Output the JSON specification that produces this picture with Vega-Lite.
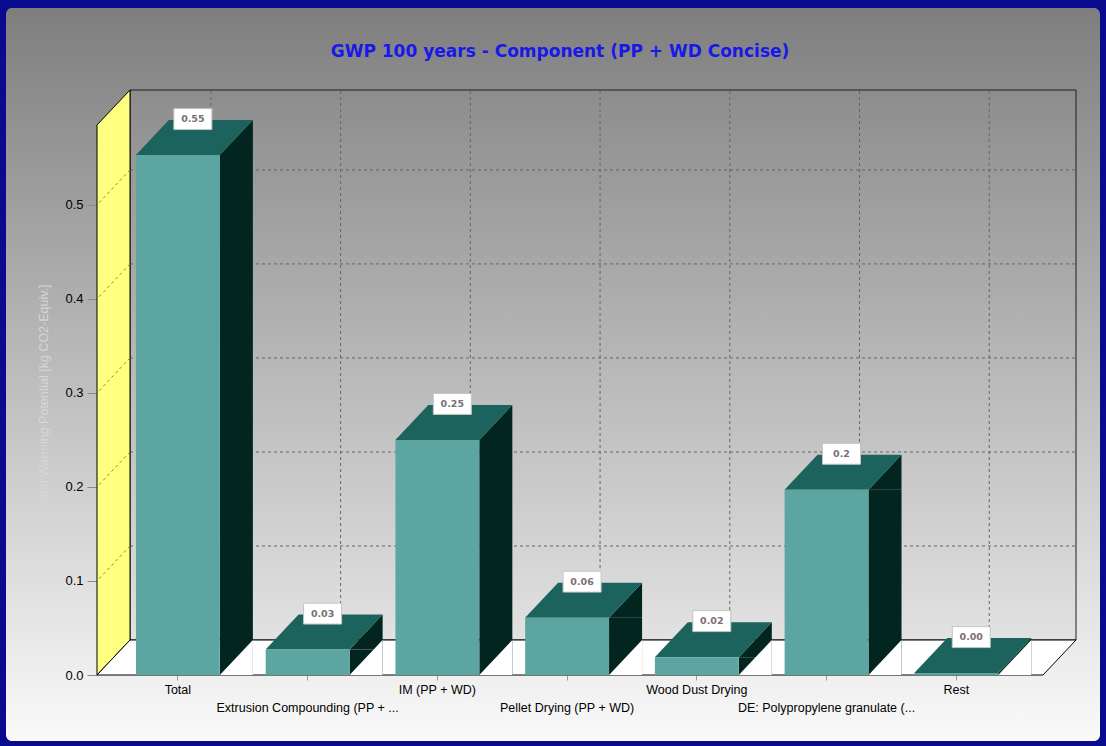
{
  "$schema": "https://vega.github.io/schema/vega-lite/v6.json",
  "width": 1094,
  "height": 733,
  "autosize": "none",
  "padding": {"left": 6, "top": 8, "right": 6, "bottom": 5},
  "background": "#0a0a8f",
  "config": {
    "view": {
      "stroke": null,
      "cornerRadius": 6,
      "fill": {"gradient": "linear", "x1": 0, "y1": 0, "x2": 0, "y2": 1,
        "stops": [{"offset": 0, "color": "#7e7e7e"}, {"offset": 1, "color": "#fafafa"}]}
    }
  },
  "title": {
    "text": "GWP 100 years - Component (PP + WD Concise)",
    "color": "#1818e8",
    "font": "DejaVu Sans",
    "fontSize": 17,
    "fontWeight": "bold",
    "anchor": "middle",
    "frame": "group",
    "baseline": "middle",
    "offset": -61,
    "dx": 7
  },
  "datasets": {
    "bars": [
      {"name": "Total", "value": 0.553, "label": "0.55"},
      {"name": "Extrusion Compounding (PP + ...", "value": 0.027, "label": "0.03"},
      {"name": "IM (PP + WD)", "value": 0.25, "label": "0.25"},
      {"name": "Pellet Drying (PP + WD)", "value": 0.061, "label": "0.06"},
      {"name": "Wood Dust Drying", "value": 0.019, "label": "0.02"},
      {"name": "DE: Polypropylene granulate (...", "value": 0.197, "label": "0.2"},
      {"name": "Rest", "value": 0.002, "label": "0.00"}
    ],
    "ticks": [{"v": 0.1}, {"v": 0.2}, {"v": 0.3}, {"v": 0.4}, {"v": 0.5}]
  },
  "layer": [
    {
      "layer": [
        {
          "data": {"values": [{}]},
          "mark": {"type": "rect", "stroke": "#1e1e1e", "strokeWidth": 1,
            "fill": {"gradient": "linear", "x1": 0, "y1": 0, "x2": 0, "y2": 1,
              "stops": [{"offset": 0, "color": "#8d8d8d"}, {"offset": 1, "color": "#e2e2e2"}]}},
          "encoding": {
            "x": {"datum": 0, "type": "quantitative", "scale": {"domain": [0, 1], "range": [124, 1070]}, "axis": null},
            "x2": {"datum": 1},
            "y": {"datum": 0, "type": "quantitative", "scale": {"domain": [0, 0.585], "range": [632, 82], "nice": false, "zero": true}, "axis": null},
            "y2": {"datum": 0.585}
          }
        },
        {
          "data": {"name": "ticks"},
          "mark": {"type": "rule", "stroke": "#666666", "strokeDash": [3, 3], "strokeWidth": 1},
          "encoding": {
            "x": {"datum": 0, "type": "quantitative", "scale": {"domain": [0, 1], "range": [124, 1070]}, "axis": null},
            "x2": {"datum": 1},
            "y": {"field": "v", "type": "quantitative", "scale": {"domain": [0, 0.585], "range": [632, 82], "nice": false, "zero": true}, "axis": null}
          }
        },
        {
          "data": {"values": [{}]},
          "mark": {"type": "point", "shape": "M0 0 L0 -1.8333 L-0.11 -1.7167 L-0.11 0.11667 Z", "size": 360000,
            "filled": true, "fill": "#ffff80", "stroke": "#000000", "strokeWidth": 1, "opacity": 1},
          "encoding": {
            "x": {"datum": 0, "type": "quantitative", "scale": {"domain": [0, 1], "range": [124, 1070]}, "axis": null},
            "y": {"datum": 0, "type": "quantitative", "scale": {"domain": [0, 0.585], "range": [632, 82], "nice": false, "zero": true}, "axis": null}
          }
        },
        {
          "data": {"name": "ticks"},
          "mark": {"type": "point", "shape": "M0 0 L-0.66 0.7", "size": 10000,
            "filled": false, "stroke": "#9a8a20", "strokeDash": [3, 3], "strokeWidth": 1, "opacity": 1},
          "encoding": {
            "x": {"datum": 0, "type": "quantitative", "scale": {"domain": [0, 1], "range": [124, 1070]}, "axis": null},
            "y": {"field": "v", "type": "quantitative", "scale": {"domain": [0, 0.585], "range": [632, 82], "nice": false, "zero": true}, "axis": null}
          }
        },
        {
          "data": {"values": [{}]},
          "mark": {"type": "point", "shape": "M0 0 L1.892 0 L1.826 0.07 L-0.066 0.07 Z", "size": 1000000,
            "filled": true, "fill": "#ffffff", "stroke": "#000000", "strokeWidth": 1, "opacity": 1},
          "encoding": {
            "x": {"datum": 0, "type": "quantitative", "scale": {"domain": [0, 1], "range": [124, 1070]}, "axis": null},
            "y": {"datum": 0, "type": "quantitative", "scale": {"domain": [0, 0.585], "range": [632, 82], "nice": false, "zero": true}, "axis": null}
          }
        }
      ]
    },
    {
      "data": {"name": "bars"},
      "encoding": {
        "x": {
          "field": "name", "type": "nominal", "sort": null,
          "scale": {"type": "band", "range": [124, 1070], "paddingInner": 0.354, "paddingOuter": 0.323, "align": 0.465},
          "axis": {
            "orient": "bottom", "offset": -66, "position": -33, "title": null,
            "domain": false, "grid": false, "labelAngle": 0,
            "labelFont": "Liberation Sans", "labelFontSize": 12.5, "labelColor": "#000000",
            "labelPadding": 3, "tickSize": 5, "tickColor": "#9a9a9a",
            "labelLimit": 0, "labelOverlap": false, "labelBound": false, "labelLineHeight": 18,
            "labelExpr": "round(datum.index * 6) % 2 === 1 ? ['', datum.label] : datum.label"
          }
        }
      },
      "layer": [
        {
          "mark": {"type": "rule", "stroke": "#666666", "strokeDash": [3, 3], "strokeWidth": 1},
          "encoding": {
            "y": {"datum": 0, "type": "quantitative", "scale": {"domain": [0, 0.585], "range": [632, 82], "nice": false, "zero": true}},
            "y2": {"datum": 0.585}
          }
        },
        {
          "mark": {"type": "bar", "width": 33, "xOffset": 25.5, "yOffset": 35, "y2Offset": 35, "color": "#02251f"},
          "encoding": {
            "y": {"field": "value", "type": "quantitative", "scale": {"domain": [0, 0.585], "range": [632, 82], "nice": false, "zero": true},
              "axis": {
                "orient": "left", "offset": -91, "position": 35,
                "title": "Global Warming Potential [kg CO2-Equiv.]",
                "domain": false, "grid": false, "values": [0, 0.1, 0.2, 0.3, 0.4, 0.5], "format": ".1f",
                "tickColor": "#8a8a8a", "tickSize": 10, "labelPadding": 4,
                "labelFont": "Liberation Sans", "labelFontSize": 13, "labelColor": "#000000",
                "titleFont": "Liberation Sans", "titleFontSize": 12.5, "titleFontWeight": "normal",
                "titleColor": "#d6d6d6", "titlePadding": 14
              }}
          }
        },
        {
          "mark": {"type": "point", "shape": "M0.84 0 L1.5 -0.7 L1.5 0 Z", "size": 10000, "filled": true,
            "fill": "#02251f", "strokeWidth": 0, "opacity": 1, "xOffset": -33, "yOffset": 35},
          "encoding": {"y": {"field": "value", "type": "quantitative"}}
        },
        {
          "mark": {"type": "point", "shape": "M0.84 0 L1.5 -0.7 L1.5 0 Z", "size": 10000, "filled": true,
            "fill": "#ffffff", "strokeWidth": 0, "opacity": 1, "xOffset": -33, "yOffset": 35},
          "encoding": {"y": {"datum": 0, "type": "quantitative"}}
        },
        {
          "mark": {"type": "point", "shape": "M-0.84 0 L0.84 0 L1.5 -0.7 L-0.18 -0.7 Z", "size": 10000, "filled": true,
            "fill": "#1c635d", "strokeWidth": 0, "opacity": 1, "xOffset": -33, "yOffset": 35},
          "encoding": {"y": {"field": "value", "type": "quantitative"}}
        },
        {
          "mark": {"type": "bar", "xOffset": -33, "yOffset": 35, "y2Offset": 35, "color": "#5ca5a0"},
          "encoding": {"y": {"field": "value", "type": "quantitative"}}
        },
        {
          "mark": {"type": "point", "shape": "M-1 -0.55 L1 -0.55 L1 0.55 L-1 0.55 Z", "size": 1444, "filled": true,
            "fill": "#ffffff", "stroke": "#c4c4c4", "strokeWidth": 1, "opacity": 1, "xOffset": -18, "yOffset": -1},
          "encoding": {"y": {"field": "value", "type": "quantitative"}}
        },
        {
          "mark": {"type": "text", "font": "DejaVu Sans", "fontSize": 9.5, "fontWeight": "bold", "color": "#7a6f75",
            "xOffset": -18, "yOffset": -1, "baseline": "middle", "align": "center"},
          "encoding": {"y": {"field": "value", "type": "quantitative"}, "text": {"field": "label"}}
        }
      ]
    }
  ],
  "resolve": {"scale": {"x": "independent"}, "axis": {"x": "independent", "y": "independent"}}
}
